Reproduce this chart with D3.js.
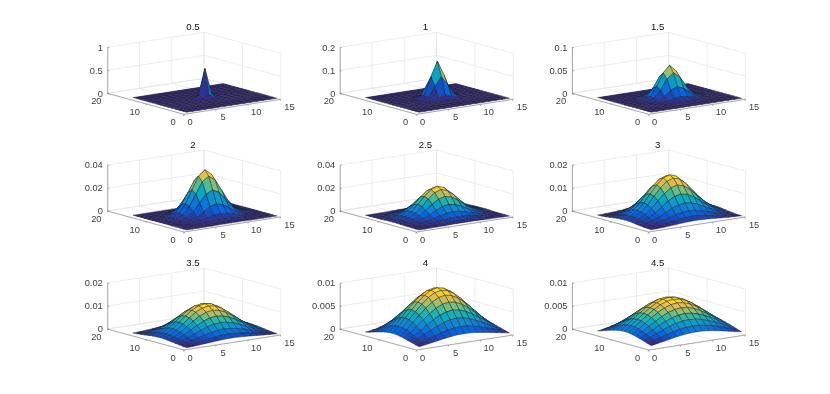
<!DOCTYPE html>
<html><head><meta charset="utf-8">
<script src="https://cdn.jsdelivr.net/npm/d3@7"></script>
<style>html,body{margin:0;padding:0;background:#fff}svg{display:block;filter:blur(0.35px)}text{font-family:"Liberation Sans",Arial,sans-serif}</style>
</head><body><svg id="c" width="830" height="394"></svg>
<script>
// Chart data: each surface is mirror-symmetric about its peak at (8,8),
// so each table lists one quadrant, rows and columns running from the peak outwards.
const titles = ["0.5","1","1.5","2","2.5","3","3.5","4","4.5"];
const gridAxis = [1,2,3,4,5,6,7,8,9,10,11,12,13,14,15];
const xTicks = [0,5,10,15];
const yTicks = [0,10,20];
const zTicks = [[0,0.5,1],[0,0.1,0.2],[0,0.05,0.1],[0,0.02,0.04],[0,0.02,0.04],[0,0.01,0.02],[0,0.01,0.02],[0,0.005,0.01],[0,0.005,0.01]];
const zTickLabels = [["0","0.5","1"],["0","0.1","0.2"],["0","0.05","0.1"],["0","0.02","0.04"],["0","0.02","0.04"],["0","0.01","0.02"],["0","0.01","0.02"],["0","0.005","0.01"],["0","0.005","0.01"]];
const s05 = [
[.637,.0862,.0002,0,0,0,0,0],[.0862,.0117,0,0,0,0,0,0],[.0002,0,0,0,0,0,0,0],[0,0,0,0,0,0,0,0],
[0,0,0,0,0,0,0,0],[0,0,0,0,0,0,0,0],[0,0,0,0,0,0,0,0],[0,0,0,0,0,0,0,0]];
const s10 = [
[.1592,.0965,.0215,.0018,.0001,0,0,0],[.0965,.0585,.0131,.0011,0,0,0,0],[.0215,.0131,.0029,.0002,0,0,0,0],
[.0018,.0011,.0002,0,0,0,0,0],[.0001,0,0,0,0,0,0,0],[0,0,0,0,0,0,0,0],[0,0,0,0,0,0,0,0],[0,0,0,0,0,0,0,0]];
const s15 = [
[.0707,.0566,.0291,.0096,.0020,.0003,0,0],[.0566,.0453,.0233,.0077,.0016,.0002,0,0],
[.0291,.0233,.0120,.0039,.0008,.0001,0,0],[.0096,.0077,.0039,.0013,.0003,0,0,0],
[.0020,.0016,.0008,.0003,.0001,0,0,0],[.0003,.0002,.0001,0,0,0,0,0],[0,0,0,0,0,0,0,0],[0,0,0,0,0,0,0,0]];
const s20 = [
[.0398,.0351,.0241,.0129,.0054,.0017,.0004,.0001],[.0351,.0310,.0213,.0114,.0048,.0015,.0004,.0001],
[.0241,.0213,.0146,.0078,.0033,.0011,.0003,.0001],[.0129,.0114,.0078,.0042,.0017,.0006,.0001,0],
[.0054,.0048,.0033,.0017,.0007,.0002,.0001,0],[.0017,.0015,.0011,.0006,.0002,.0001,0,0],
[.0004,.0004,.0003,.0001,.0001,0,0,0],[.0001,.0001,.0001,0,0,0,0,0]];
const s25 = [
[.0255,.0235,.0185,.0124,.0071,.0034,.0014,.0005],[.0235,.0217,.0171,.0114,.0065,.0032,.0013,.0005],
[.0185,.0171,.0134,.0090,.0051,.0025,.0010,.0004],[.0124,.0114,.0090,.0060,.0034,.0017,.0007,.0002],
[.0071,.0065,.0051,.0034,.0020,.0010,.0004,.0001],[.0034,.0032,.0025,.0017,.0010,.0005,.0002,.0001],
[.0014,.0013,.0010,.0007,.0004,.0002,.0001,0],[.0005,.0005,.0004,.0002,.0001,.0001,0,0]];
const s30 = [
[.01768,.01673,.01416,.01072,.00727,.00441,.00239,.00116],[.01673,.01582,.01339,.01015,.00688,.00417,.00226,.00110],
[.01416,.01339,.01134,.00859,.00582,.00353,.00192,.00093],[.01072,.01015,.00859,.00650,.00441,.00267,.00145,.00070],
[.00727,.00688,.00582,.00441,.00299,.00181,.00098,.00048],[.00441,.00417,.00353,.00267,.00181,.00110,.00060,.00029],
[.00239,.00226,.00192,.00145,.00098,.00060,.00032,.00016],[.00116,.00110,.00093,.00070,.00048,.00029,.00016,.00008]];
const s35 = [
[.01299,.01247,.01104,.00896,.00662,.00429,.00247,.00130],[.01247,.01197,.01060,.00860,.00636,.00412,.00237,.00125],
[.01104,.01060,.00939,.00762,.00563,.00364,.00210,.00110],[.00896,.00860,.00762,.00618,.00457,.00296,.00170,.00090],
[.00662,.00636,.00563,.00457,.00338,.00219,.00126,.00066],[.00429,.00412,.00364,.00296,.00219,.00141,.00081,.00043],
[.00247,.00237,.00210,.00170,.00126,.00081,.00047,.00025],[.00130,.00125,.00110,.00090,.00066,.00043,.00025,.00013]];
const s40 = [
[.00995,.00964,.00878,.00751,.00603,.00448,.00289,.00159],[.00964,.00934,.00851,.00728,.00584,.00434,.00280,.00154],
[.00878,.00851,.00774,.00663,.00532,.00395,.00255,.00140],[.00751,.00728,.00663,.00567,.00455,.00338,.00218,.00120],
[.00603,.00584,.00532,.00455,.00365,.00271,.00175,.00096],[.00448,.00434,.00395,.00338,.00271,.00201,.00130,.00072],
[.00289,.00280,.00255,.00218,.00175,.00130,.00084,.00046],[.00159,.00154,.00140,.00120,.00096,.00072,.00046,.00025]];
const s45 = [
[.00786,.00767,.00712,.00629,.00527,.00417,.00303,.00197],[.00767,.00749,.00695,.00614,.00514,.00407,.00295,.00192],
[.00712,.00695,.00645,.00570,.00477,.00377,.00274,.00178],[.00629,.00614,.00570,.00503,.00421,.00333,.00242,.00157],
[.00527,.00514,.00477,.00421,.00353,.00279,.00203,.00132],[.00417,.00407,.00377,.00333,.00279,.00221,.00160,.00104],
[.00303,.00295,.00274,.00242,.00203,.00160,.00117,.00076],[.00197,.00192,.00178,.00157,.00132,.00104,.00076,.00049]];
const quadrants = [s05,s10,s15,s20,s25,s30,s35,s40,s45];
const parulaStops = ["#352A87","#0363E1","#1485D4","#06A7C6","#38B99E","#92BF73","#D9BA56","#FCCE2E","#F9FB0E"];

// Layout
const columnX = [184,416.5,648.7];
const rowY = [114.3,232,350];
const svg = d3.select("#c");
const xToX = d3.scaleLinear().domain([0,15]).range([0,96.7]);
const xToY = d3.scaleLinear().domain([0,15]).range([0,-15]);
const yToX = d3.scaleLinear().domain([0,20]).range([0,-76.7]);
const yToY = d3.scaleLinear().domain([0,20]).range([0,-21]);
const paletteDomain = parulaStops.map((_,i)=>i/(parulaStops.length-1));
const lab = "#404040", gridC = "#e4e4e4", axisC = "#8c8c8c";

titles.forEach((title,p)=>{
  const ox = columnX[p%3], oy = rowY[Math.floor(p/3)];
  const q = quadrants[p], ticks = zTicks[p];
  const zTop = ticks[ticks.length-1];
  const zPx = d3.scaleLinear().domain([0,zTop]).range([0,-46]);
  const pt = (x,y,z)=>[xToX(x)+yToX(y), xToY(x)+yToY(y)+zPx(z)];
  const val = (i,j)=>q[Math.abs(i-7)][Math.abs(j-7)];
  const g = svg.append("g").attr("transform",`translate(${ox},${oy})`);
  const seg = (a,b,c,w)=>g.append("line").attr("x1",a[0]).attr("y1",a[1]).attr("x2",b[0]).attr("y2",b[1]).attr("stroke",c).attr("stroke-width",w||0.7);
  // back-plane grid
  xTicks.forEach(x=>{ seg(pt(x,0,0),pt(x,20,0),gridC); seg(pt(x,20,0),pt(x,20,zTop),gridC); });
  yTicks.forEach(y=>{ seg(pt(0,y,0),pt(15,y,0),gridC); seg(pt(15,y,0),pt(15,y,zTop),gridC); });
  ticks.forEach(z=>{ seg(pt(0,20,z),pt(15,20,z),gridC); seg(pt(15,20,z),pt(15,0,z),gridC); });
  // surface
  const zMin = q[7][7], zMax = q[0][0];
  const color = d3.scaleLinear().domain(paletteDomain.map(t=>zMin+t*(zMax-zMin))).range(parulaStops).clamp(true);
  const line = d3.line();
  const s = g.append("g");
  for(let i=13;i>=0;i--) for(let j=13;j>=0;j--){
    const x0=gridAxis[i],x1=gridAxis[i+1],y0=gridAxis[j],y1=gridAxis[j+1];
    s.append("path")
     .attr("d",line([pt(x0,y0,val(i,j)),pt(x1,y0,val(i+1,j)),pt(x1,y1,val(i+1,j+1)),pt(x0,y1,val(i,j+1))])+"Z")
     .attr("fill",color(val(i,j))).attr("stroke","#1a1a1a").attr("stroke-width",0.5).attr("stroke-opacity",0.8).attr("stroke-linejoin","round");
  }
  // axes
  seg(pt(0,0,0),pt(15,0,0),axisC);
  seg(pt(0,0,0),pt(0,20,0),axisC);
  xTicks.forEach((x,k)=>{
    const a=pt(x,0,0); seg(a,[a[0]-0.6,a[1]+1.6],axisC);
    g.append("text").attr("x",a[0]+6+k*0.9).attr("y",a[1]+11).attr("text-anchor","middle").attr("font-size",9.3).attr("fill",lab).text(x);
  });
  yTicks.forEach(y=>{
    const a=pt(0,y,0); seg(a,[a[0]+0.9,a[1]+1.4],axisC);
    g.append("text").attr("x",a[0]-11).attr("y",a[1]+11).attr("text-anchor","middle").attr("font-size",9.3).attr("fill",lab).text(y);
  });
  const base = pt(0,20,0);
  const zAxis = d3.axisLeft(d3.scaleLinear().domain([0,zTop]).range([0,-46]))
    .tickValues(ticks).tickFormat((d,i)=>zTickLabels[p][i]).tickSizeOuter(0).tickSizeInner(0).tickPadding(4.5);
  const za = g.append("g").attr("transform",`translate(${base[0]},${base[1]})`).call(zAxis);
  za.select(".domain").attr("stroke",axisC).attr("stroke-width",0.7);
  za.selectAll("text").attr("font-size",9.3).attr("fill",lab).style("font-family",'"Liberation Sans",Arial,sans-serif');
  ticks.forEach(z=>{ const a=pt(0,20,z); seg(a,[a[0]+2,a[1]+0.5],axisC); });
  // title
  g.append("text").attr("x",9).attr("y",-84).attr("text-anchor","middle").attr("font-size",9.6).attr("fill","#111").text(title);
});
</script></body></html>
